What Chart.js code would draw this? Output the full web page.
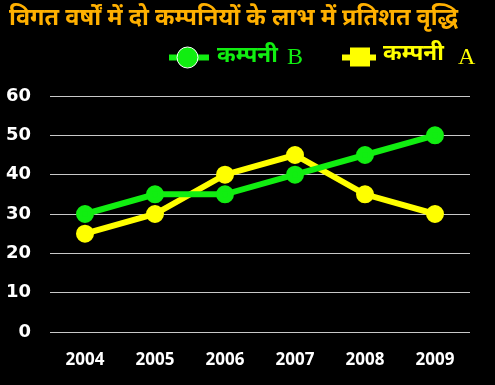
<!DOCTYPE html>
<html>
<head>
<meta charset="utf-8">
<script src="https://cdn.jsdelivr.net/npm/chart.js@4.4.0/dist/chart.umd.min.js"></script>
<style>
  html, body { margin: 0; padding: 0; background: #000; }
  #wrap { width: 495px; height: 385px; }
</style>
</head>
<body>
<div id="wrap"><canvas id="profitChart" width="495" height="385"></canvas></div>
<script>
// data
const years = ["2004", "2005", "2006", "2007", "2008", "2009"];
const companyB = [30, 35, 35, 40, 45, 50];
const companyA = [25, 30, 40, 45, 35, 30];
const yTicks = [0, 10, 20, 30, 40, 50, 60];

const titleText = "विगत वर्षों में दो कम्पनियों के लाभ में प्रतिशत वृद्धि";
const hindiFont = "'Noto Sans Devanagari', 'Lohit Devanagari', 'Noto Sans', sans-serif";

const GREEN = "#11ee11";
const YELLOW = "#ffff00";

// title + legend drawn by hand, the built-in legend can't do line-through-marker
const headerPlugin = {
    id: "header",
    afterDraw(chart) {
        const ctx = chart.ctx;
        ctx.save();
        ctx.textBaseline = "middle";
        ctx.textAlign = "left";

        ctx.fillStyle = "#ffb000";
        ctx.font = "bold 23.5px " + hindiFont;
        ctx.fillText(titleText, 9, 21);

        // company B
        let y = 57.5;
        ctx.strokeStyle = GREEN;
        ctx.lineWidth = 6;
        ctx.beginPath();
        ctx.moveTo(169, y);
        ctx.lineTo(209, y);
        ctx.stroke();
        ctx.beginPath();
        ctx.arc(187.5, y, 10.5, 0, Math.PI * 2);
        ctx.fillStyle = GREEN;
        ctx.fill();
        ctx.strokeStyle = "#ffffff";
        ctx.lineWidth = 1;
        ctx.stroke();
        ctx.fillStyle = GREEN;
        ctx.font = "bold 22.5px " + hindiFont;
        ctx.fillText("कम्पनी", 217, y);
        ctx.font = "24px 'Liberation Serif', serif";
        ctx.fillText("B", 287, y);

        // company A
        ctx.strokeStyle = YELLOW;
        ctx.lineWidth = 6;
        ctx.beginPath();
        ctx.moveTo(342, y);
        ctx.lineTo(376, y);
        ctx.stroke();
        ctx.fillStyle = YELLOW;
        ctx.fillRect(350, y - 10, 20, 19);
        ctx.font = "bold 22.5px " + hindiFont;
        ctx.fillText("कम्पनी", 383, y - 2);
        ctx.font = "24px 'Liberation Serif', serif";
        ctx.fillText("A", 458, y);

        ctx.restore();
    }
};

new Chart(
    document.getElementById("profitChart"),
    {
        type: "line",
        data: {
            labels: years,
            datasets: [
                {
                    label: "कम्पनी B",
                    data: companyB,
                    borderColor: GREEN,
                    backgroundColor: GREEN,
                    borderWidth: 6,
                    pointRadius: 6,
                    pointHoverRadius: 6,
                    tension: 0
                },
                {
                    label: "कम्पनी A",
                    data: companyA,
                    borderColor: YELLOW,
                    backgroundColor: YELLOW,
                    borderWidth: 6,
                    pointRadius: 6,
                    pointHoverRadius: 6,
                    tension: 0
                }
            ]
        },
        options: {
            responsive: false,
            animation: false,
            layout: {
                padding: { top: 96, right: 25, left: 0, bottom: 0 }
            },
            plugins: {
                legend: { display: false },
                title: { display: false },
                tooltip: { enabled: false }
            },
            scales: {
                x: {
                    offset: true,
                    grid: { display: false },
                    border: { display: false },
                    ticks: {
                        color: "#ffffff",
                        padding: 10,
                        font: { family: "'Open Sans', sans-serif", size: 17, weight: "bold" }
                    },
                    afterFit(scale) { scale.height = 53; }
                },
                y: {
                    min: 0,
                    max: 60,
                    afterBuildTicks(scale) {
                        scale.ticks = yTicks.map(v => ({ value: v }));
                    },
                    grid: { color: "#c8c8c8", lineWidth: 1, drawTicks: false },
                    border: { display: false },
                    ticks: {
                        color: "#ffffff",
                        padding: 19,
                        font: { family: "'DejaVu Sans', sans-serif", size: 18, weight: "bold" }
                    },
                    afterFit(scale) { scale.width = 50; }
                }
            }
        },
        plugins: [headerPlugin]
    }
);
</script>
</body>
</html>
